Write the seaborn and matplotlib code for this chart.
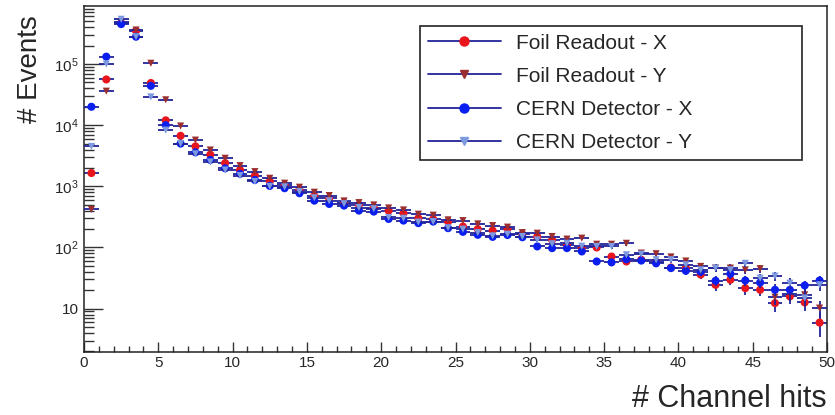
import numpy as np
import pandas as pd
import matplotlib
matplotlib.use('Agg')
import matplotlib.pyplot as plt
from matplotlib.lines import Line2D
from matplotlib.ticker import FixedLocator, FixedFormatter, MultipleLocator, NullFormatter
import seaborn as sns

# Channel-hit bins (width 1, centres at n + 0.5)
channel_hits = np.arange(0, 50) + 0.5

foil_x = [1650, 56000, 470000, 350000, 49000, 12000, 6700, 4500, 3300, 2400,
          1850, 1500, 1200, 1050, 880, 700, 640, 540, 500, 450,
          400, 360, 300, 290, 265, 220, 200, 189, 201, 165,
          150, 133, 110, 98, 100, 71, 59, 63, 58, 47,
          46, 36, 24.5, 29.6, 21.6, 20.3, 12.3, 15.8, 12.6, 5.9]

foil_y = [420, 36000, 490000, 360000, 103000, 26000, 9700, 5700, 3930, 2880,
          2180, 1740, 1355, 1125, 967, 801, 707, 577, 542, 496,
          443, 411, 350, 337, 283, 275, 243, 228, 215, 175,
          171, 151, 137, 142, 113, 113, 117, 81, 79, 70,
          60, 49, 46, 46, 43, 45, 15.4, 17.5, 16.8, 10.2]

cern_x = [20000, 132000, 450000, 280000, 44000, 10000, 5000, 3600, 2700, 1970,
          1600, 1270, 1016, 931, 771, 583, 515, 484, 401, 386,
          293, 275, 250, 265, 207, 180, 161, 149, 160, 147,
          104, 97.5, 97.5, 86, 59, 57, 64, 61, 55, 46,
          41.5, 40, 28.5, 37, 28.8, 26.7, 20.3, 20.3, 23.9, 28.8]

cern_y = [4500, 100000, 540000, 280000, 29000, 8300, 5000, 3400, 2500, 1850,
          1500, 1200, 1000, 980, 820, 650, 580, 520, 450, 430,
          310, 300, 260, 265, 210, 199, 175, 155, 165, 151,
          133, 115, 117, 105, 104, 104, 76, 78, 63, 63,
          52, 43, 46, 43, 55, 31.5, 34, 26, 14.9, 24.5]

series_names = ['Foil Readout - X', 'Foil Readout - Y', 'CERN Detector - X', 'CERN Detector - Y']
series_values = [foil_x, foil_y, cern_x, cern_y]

y_tick_values = [10, 100, 1000, 10000, 100000]
y_tick_labels = ['10', r'$\mathregular{10^{2}}$', r'$\mathregular{10^{3}}$',
                 r'$\mathregular{10^{4}}$', r'$\mathregular{10^{5}}$']

colors = {'Foil Readout - X': '#e8161c', 'Foil Readout - Y': '#9b2e2e',
          'CERN Detector - X': '#0a1ef0', 'CERN Detector - Y': '#7d9ae0'}
markers = {'Foil Readout - X': 'o', 'Foil Readout - Y': 'v',
           'CERN Detector - X': 'o', 'CERN Detector - Y': 'v'}
sizes = {'o': 34, 'v': 26}
err_color = '#23239a'

# long-form table
df = pd.concat([pd.DataFrame({'Channel': channel_hits, 'Events': vals, 'Detector': name})
                for name, vals in zip(series_names, series_values)], ignore_index=True)

sns.set_style('ticks')
plt.rcParams['font.family'] = ['Liberation Sans', 'DejaVu Sans']

fig = plt.figure(figsize=(8.35, 4.15), dpi=100)
ax = fig.add_axes([84 / 835, 1 - 352 / 415, 743 / 835, 346 / 415])

for i, name in enumerate(series_names):
    sub = df[df['Detector'] == name]
    ax.errorbar(sub['Channel'], sub['Events'], xerr=0.5, yerr=np.sqrt(sub['Events']),
                fmt='none', ecolor=err_color, elinewidth=1.3, capsize=0, zorder=2 + 2 * i)
    sns.scatterplot(data=sub, x='Channel', y='Events', color=colors[name],
                    marker=markers[name], s=sizes[markers[name]], linewidth=0,
                    edgecolor='none', ax=ax, legend=False, zorder=3 + 2 * i)

ax.set_yscale('log')
ax.set_xlim(0, 50)
ax.set_ylim(1.95, 8.9e5)

ax.xaxis.set_major_locator(MultipleLocator(5))
ax.xaxis.set_minor_locator(MultipleLocator(1))
ax.yaxis.set_major_locator(FixedLocator(y_tick_values))
ax.yaxis.set_major_formatter(FixedFormatter(y_tick_labels))
minor_y = [m * 10 ** d for d in range(0, 6) for m in range(2, 10)]
ax.yaxis.set_minor_locator(FixedLocator(minor_y))
ax.yaxis.set_minor_formatter(NullFormatter())

ax.tick_params(axis='y', which='major', direction='in', length=14, width=1, color='#333333',
               labelsize=11, pad=4)
ax.tick_params(axis='y', which='minor', direction='in', length=7, width=1, color='#333333')
ax.tick_params(axis='x', which='major', direction='in', length=7.5, width=1, color='#333333',
               labelsize=11, pad=3)
ax.tick_params(axis='x', which='minor', direction='in', length=4, width=1, color='#333333')

for sp in ax.spines.values():
    sp.set_color('#222222')
    sp.set_linewidth(1.1)

ax.set_xlabel('')
ax.set_ylabel('')
fig.text(0.036, 1 - 15 / 415, '# Events', rotation=90, ha='center', va='top', fontsize=20)
fig.text(827 / 835, 0.02, '# Channel hits', ha='right', va='baseline', fontsize=22)

handles = [Line2D([0], [0], color=err_color, lw=1.3, marker=markers[n],
                  markerfacecolor=colors[n], markeredgecolor=colors[n],
                  markersize=6.5 if markers[n] == 'o' else 5.5)
           for n in series_names]
leg = ax.legend(handles, series_names, loc='upper left',
                bbox_to_anchor=(336 / 743, 0.558, 382 / 743, 0.384), mode='expand',
                fontsize=15, frameon=True, fancybox=False, framealpha=1,
                edgecolor='#222222', borderpad=0.36, labelspacing=0.68,
                handlelength=3.55, handletextpad=0.72, borderaxespad=0)
leg.get_frame().set_linewidth(1.2)

fig.savefig('out.png', dpi=100)
